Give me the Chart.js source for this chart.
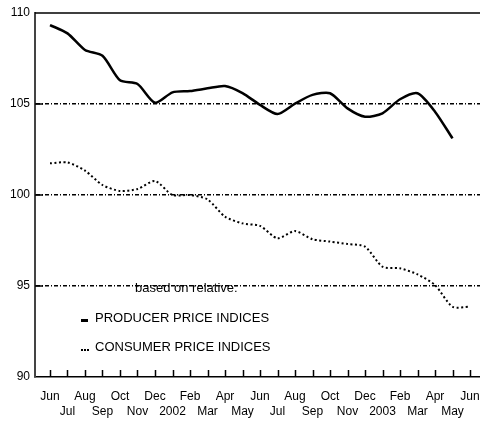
<!DOCTYPE html>
<html>
<head>
<meta charset="utf-8">
<script src="https://cdn.jsdelivr.net/npm/chart.js@4.4.1/dist/chart.umd.min.js"></script>
<style>
  body{margin:0;background:#fff;}
  #wrap{position:relative;width:480px;height:423px;}
  .lbl{position:absolute;font:13px "Liberation Sans", Arial, sans-serif;line-height:15px;color:#000;white-space:nowrap;}
  .sym{position:absolute;background:#000;}
</style>
</head>
<body>
<div id="wrap">
  <canvas id="chart" width="480" height="423"></canvas>
  <div class="lbl" style="left:135px;top:280px;">based on relative:</div>
  <div class="sym" style="left:81px;top:319px;width:7px;height:3px;"></div>
  <div class="lbl" style="left:95px;top:310px;">PRODUCER PRICE INDICES</div>
  <div class="sym" style="left:81px;top:349px;width:2px;height:2px;"></div>
  <div class="sym" style="left:84px;top:349px;width:2px;height:2px;"></div>
  <div class="sym" style="left:87px;top:349px;width:2px;height:2px;"></div>
  <div class="lbl" style="left:95px;top:339px;">CONSUMER PRICE INDICES</div>
</div>
<script>
// months Jun 2001 .. Jun 2003
const months = ["Jun","Jul","Aug","Sep","Oct","Nov","Dec","2002","Feb","Mar","Apr","May",
                "Jun","Jul","Aug","Sep","Oct","Nov","Dec","2003","Feb","Mar","Apr","May","Jun"];
const producer = [109.34,108.88,107.97,107.65,106.3,106.1,105.07,105.64,105.71,105.86,105.99,105.6,
                  104.95,104.45,105.02,105.5,105.59,104.76,104.3,104.49,105.26,105.59,104.58,103.11];
const consumer = [101.74,101.79,101.34,100.55,100.22,100.33,100.77,100.0,100.0,99.76,98.81,98.44,
                  98.3,97.62,98.02,97.57,97.44,97.31,97.16,96.06,95.97,95.64,95.05,93.86,93.86];
const yTicks = [90,95,100,105,110];
const gridValues = [95,100,105];

const FONT = '"Liberation Sans", Arial, sans-serif';

const toPoints = arr => arr.map((v,i)=>({x:i,y:v}));

// inner ticks + top border
const frame = {
  id:"frame",
  afterDraw(chart){
    const {ctx, chartArea:a, scales:{x,y}} = chart;
    ctx.save();
    ctx.strokeStyle = "#000";
    ctx.lineWidth = 1.5;
    ctx.beginPath();
    ctx.moveTo(a.left, a.top); ctx.lineTo(a.right, a.top);
    months.forEach((m,i)=>{
      const px = Math.round(x.getPixelForValue(i))+0.5;
      ctx.moveTo(px, a.bottom); ctx.lineTo(px, a.bottom-7);
    });
    gridValues.forEach(v=>{
      const py = y.getPixelForValue(v);
      ctx.moveTo(a.left, py); ctx.lineTo(a.left+8, py);
    });
    ctx.stroke();
    ctx.restore();
  }
};

new Chart(document.getElementById("chart"), {
  type:"line",
  data:{
    datasets:[
      {label:"PRODUCER PRICE INDICES", data:toPoints(producer), borderColor:"#000", borderWidth:2.5,
       pointRadius:0, tension:0.25},
      {label:"CONSUMER PRICE INDICES", data:toPoints(consumer), borderColor:"#000", borderWidth:2,
       borderDash:[2,2.5], pointRadius:0, tension:0.25}
    ]
  },
  options:{
    responsive:false,
    animation:false,
    layout:{padding:{top:13,left:0,right:0,bottom:0}},
    plugins:{legend:{display:false}, tooltip:{enabled:false}},
    scales:{
      x:{
        type:"linear", min:-0.857, max:24.571,
        afterFit:s=>{ s.height = 46; s.paddingLeft = 0; s.paddingRight = 0; },
        grid:{display:false, drawTicks:false},
        border:{display:true, color:"#000", width:1.5},
        afterBuildTicks:s=>{ s.ticks = months.map((m,i)=>({value:i})); },
        ticks:{
          autoSkip:false, maxRotation:0, padding:12, color:"#000",
          font:{family:FONT, size:12, lineHeight:1.25},
          callback:v=>{
            const m = months[v];
            if(m===undefined) return "";
            return v%2===0 ? [m,""] : ["",m];
          }
        }
      },
      y:{
        min:90, max:110,
        afterFit:s=>{ s.width = 35; },
        afterBuildTicks:s=>{ s.ticks = yTicks.map(v=>({value:v})); },
        grid:{
          drawTicks:false, lineWidth:1.5,
          color:c=> gridValues.includes(c.tick.value) ? "#000" : "rgba(0,0,0,0)"
        },
        border:{display:true, color:"#444", width:2, dash:[4,2,1,2]},
        ticks:{padding:5, color:"#000", font:{family:FONT, size:12}}
      }
    }
  },
  plugins:[frame]
});
</script>
</body>
</html>
